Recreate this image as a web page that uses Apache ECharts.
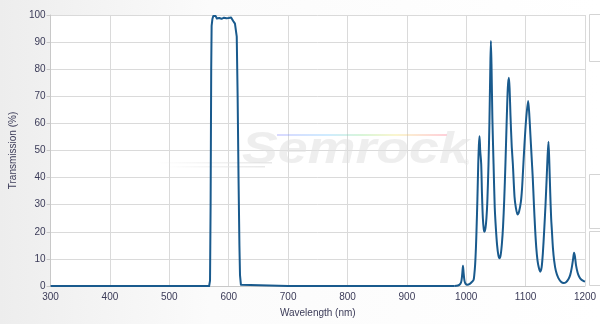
<!DOCTYPE html>
<html>
<head>
<meta charset="utf-8">
<script src="https://cdn.jsdelivr.net/npm/echarts@6/dist/echarts.min.js"></script>
<style>html,body{margin:0;padding:0;background:#fff}#c{width:600px;height:324px}</style>
</head>
<body>
<div id="c"></div>
<script>
// Blocking region before the passband (nm, %T)
var blueWl = [300, 360, 420, 500, 560, 567];
var blueT  = [0, 0, 0, 0, 0, 0];
// Passband
var passWl = [568.5, 569.5, 570.5, 571.2, 572.5, 574, 576, 578, 580, 582, 584, 586, 588, 590, 592, 594, 596, 598, 600, 602, 604, 606, 607.5, 609, 610.5, 612, 613.5, 615, 616.5, 618, 619, 620.5, 623];
var passT  = [2, 30, 80, 96, 98.5, 99.6, 99.0, 99.6, 98.7, 99.4, 98.9, 99.5, 98.6, 99.3, 99.0, 99.6, 98.8, 99.4, 98.9, 99.5, 99.1, 98.6, 97.8, 97.5, 96.8, 96.5, 92, 70, 40, 15, 4, 0.5, 0];
// Blocking region after the passband
var redWl = [700, 800, 900, 980];
var redT  = [0, 0, 0, 0];
// Near-infrared leakage peaks
var nirWl = [980, 986, 990, 992, 993.5, 994.5, 995.5, 997, 999, 1002, 1006, 1010, 1012.3, 1013.5, 1015, 1016.3, 1017.3, 1018.8, 1020.2, 1021.3, 1022.4, 1023.5, 1025.2, 1026.5, 1028, 1029.5, 1030.8, 1032.5, 1034, 1035.5, 1037.5, 1039, 1040.5, 1041.5, 1042.5, 1044, 1046, 1048, 1050, 1052, 1054, 1056, 1058, 1060, 1062, 1064, 1066, 1068, 1070, 1071.8, 1073, 1074.5, 1076.5, 1078.5, 1081.3, 1083.5, 1086.3, 1089, 1092, 1094, 1095.5, 1098, 1101, 1104.3, 1106, 1108, 1110, 1112, 1114, 1116, 1118, 1120, 1122, 1124.5, 1127, 1129, 1131.3, 1133.5, 1135.5, 1137, 1138.5, 1140, 1141.5, 1143, 1144.2, 1146, 1148, 1151, 1155, 1160, 1164, 1168, 1172, 1175, 1177.5, 1180, 1181.5, 1183, 1185, 1187.5, 1190, 1194, 1198, 1200];
var nirT  = [0, 0.2, 0.8, 2, 5, 7.5, 5, 2, 0.8, 0.5, 0.8, 1.6, 2.2, 4, 8, 14, 20.6, 32, 45, 52, 55.3, 50, 45, 34, 25, 21, 20, 21.5, 25, 31, 45, 60, 80, 90.4, 82, 62, 45, 29, 21, 15, 11.5, 10.2, 11.5, 15.5, 22, 32, 45, 60, 73, 76.8, 73, 63, 52, 45, 33, 29, 26.4, 27.5, 31, 36, 42, 52, 62, 68.3, 64, 56, 48, 40, 30, 21, 14, 9.5, 7, 5.3, 7, 12, 20.6, 30, 40, 48, 53.2, 45, 34, 25, 20.6, 14, 9.5, 5.5, 3, 1.5, 1.1, 1.4, 2.5, 4, 6.5, 10, 12.3, 11, 7.5, 5, 3.5, 2.3, 1.8, 1.6];
// Axis ticks
var xTicks = [300, 400, 500, 600, 700, 800, 900, 1000, 1100, 1200];
var yTicks = [0, 10, 20, 30, 40, 50, 60, 70, 80, 90, 100];

function pairs(w, t) { return w.map(function (x, i) { return [x, t[i]]; }); }
var visData = [].concat(pairs(blueWl, blueT), pairs(passWl, passT), pairs(redWl, redT));
var nirData = pairs(nirWl, nirT);

var chart = echarts.init(document.getElementById('c'), null, { renderer: 'canvas' });
var labelColor = '#3b3b58';
var lineColor = '#195a8d';
var font = 'Liberation Sans, Arial, sans-serif';
chart.setOption({
  animation: false,
  backgroundColor: new echarts.graphic.LinearGradient(0, 0, 1, 0, [
    { offset: 0, color: '#ededed' }, { offset: 0.35, color: '#fbfbfb' }, { offset: 1, color: '#ffffff' }
  ]),
  grid: { left: 50, right: 15, top: 15, bottom: 38, show: true, backgroundColor: '#ffffff', borderWidth: 0 },
  graphic: [
    { type: 'rect', z: 0, shape: { x: 589.5, y: 14.5, width: 20, height: 47 }, style: { fill: '#fff', stroke: '#d4d4d4', lineWidth: 1 } },
    { type: 'rect', z: 0, shape: { x: 589.5, y: 174.5, width: 20, height: 54 }, style: { fill: '#fff', stroke: '#d4d4d4', lineWidth: 1 } },
    { type: 'rect', z: 0, shape: { x: 589.5, y: 231.5, width: 20, height: 54 }, style: { fill: '#fff', stroke: '#d4d4d4', lineWidth: 1 } },
    { type: 'rect', z: 1, silent: true, shape: { x: 277, y: 134, width: 170, height: 2 },
      style: { opacity: 0.3, fill: new echarts.graphic.LinearGradient(0, 0, 1, 0, [
        { offset: 0, color: '#8080ff' }, { offset: 0.3, color: '#60c0ff' }, { offset: 0.5, color: '#80e080' },
        { offset: 0.7, color: '#f0e060' }, { offset: 1, color: '#ff6080' }]) } },
    { type: 'rect', z: 1, silent: true, shape: { x: 157, y: 162, width: 115, height: 1.5 },
      style: { fill: new echarts.graphic.LinearGradient(0, 0, 1, 0, [{ offset: 0, color: 'rgba(228,228,228,0)' }, { offset: 1, color: '#e8e8e8' }]) } },
    { type: 'rect', z: 1, silent: true, shape: { x: 165, y: 166, width: 100, height: 1.5 },
      style: { fill: new echarts.graphic.LinearGradient(0, 0, 1, 0, [{ offset: 0, color: 'rgba(228,228,228,0)' }, { offset: 1, color: '#e8e8e8' }]) } },
    { type: 'text', z: 1, silent: true, x: 242, y: 151, scaleX: 1.22,
      style: { text: 'Semrock', font: 'italic bold 44px Liberation Sans, Arial, sans-serif', fill: 'rgba(224,224,224,0.55)', verticalAlign: 'middle', align: 'left' } },
    { type: 'text', z: 1, silent: true, x: 464, y: 163,
      style: { text: '®', font: '7px Liberation Sans, Arial, sans-serif', fill: '#e4e4e4', verticalAlign: 'middle' } }
  ],
  xAxis: {
    type: 'value', min: xTicks[0], max: xTicks[xTicks.length - 1], interval: 100,
    name: 'Wavelength (nm)', nameLocation: 'middle', nameGap: 22,
    nameTextStyle: { color: labelColor, fontSize: 10, fontFamily: font },
    axisLine: { show: true, onZero: false, lineStyle: { color: '#c8c8c8', width: 1 } },
    axisTick: { show: false },
    axisLabel: { color: labelColor, fontSize: 10, fontFamily: font, margin: 6, formatter: function (v) { return String(v); } },
    splitLine: { show: true, lineStyle: { color: '#dadada', width: 1 } }
  },
  yAxis: {
    type: 'value', min: yTicks[0], max: yTicks[yTicks.length - 1], interval: 10,
    name: 'Transmission (%)', nameLocation: 'middle', nameGap: 28, nameRotate: 90,
    nameTextStyle: { color: labelColor, fontSize: 10, fontFamily: font },
    axisLine: { show: true, lineStyle: { color: '#c8c8c8', width: 1 } },
    axisTick: { show: true, length: 4, lineStyle: { color: '#c8c8c8' } },
    axisLabel: { color: labelColor, fontSize: 10, fontFamily: font, margin: 5 },
    splitLine: { show: true, lineStyle: { color: '#dadada', width: 1 } }
  },
  series: [
    { type: 'line', data: visData, showSymbol: false, smooth: false, z: 3,
      lineStyle: { color: lineColor, width: 2, join: 'round' } },
    { type: 'line', data: nirData, showSymbol: false, smooth: 0.25, z: 3,
      lineStyle: { color: lineColor, width: 2, join: 'round' } }
  ]
});
</script>
</body>
</html>
